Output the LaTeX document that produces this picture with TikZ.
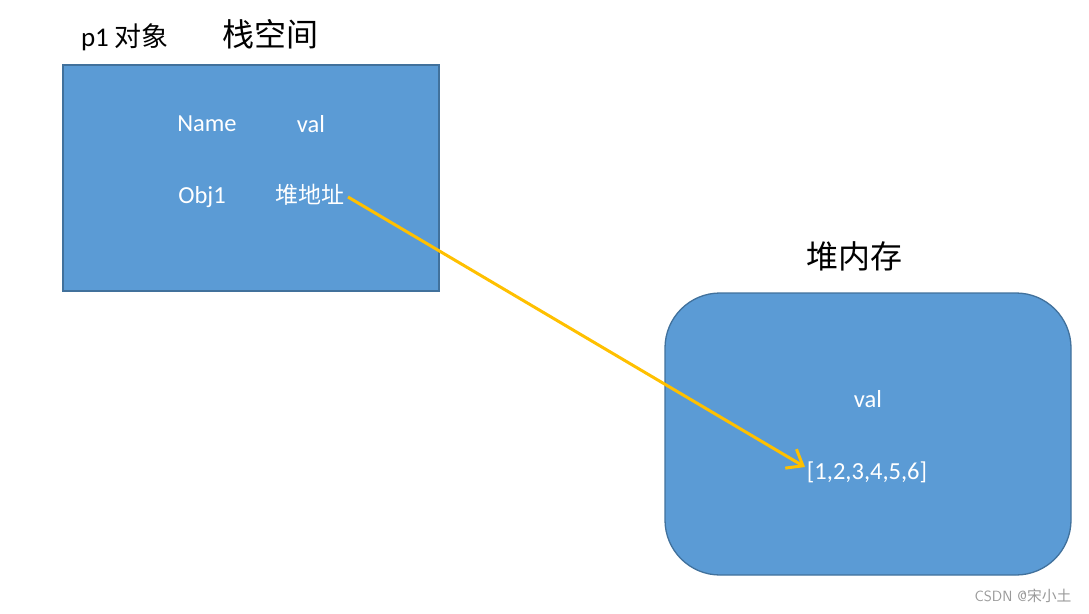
\documentclass[tikz,border=0pt]{standalone}
\usepackage{fontspec}
\setmainfont{Carlito}
\newfontfamily\cjk{Noto Sans CJK SC}
\usetikzlibrary{arrows.meta}
\definecolor{boxfill}{HTML}{5B9BD5}
\definecolor{boxline}{HTML}{41719C}
\definecolor{arrowc}{HTML}{FFC000}
\begin{document}
\begin{tikzpicture}[x=1pt,y=-1pt,
  box/.style={draw=boxline,line width=1.3pt,fill=boxfill},
  intext/.style={text=white,font=\fontsize{24.5}{28}\selectfont,inner sep=0pt,anchor=center},
  title/.style={text=black,font=\cjk\fontsize{32}{36}\selectfont,inner sep=0pt,anchor=center},
  link/.style={draw=arrowc,line width=3pt,-{Straight Barb[length=14pt,width=22pt,line width=3pt]}}]
\useasboundingbox (0,0) rectangle (1089,613);
\path[box] (63,65) rectangle (439,291);
\node (stack) at (251,178) {};
\path[box,rounded corners=55pt] (665,293) rectangle (1071,575);
\node (heap) at (868,434) {};
\node[inner sep=0pt,anchor=center,font=\fontsize{27}{31}\selectfont] (p1) at (125,37) {p1 {\cjk 对象}};
\node[title] (stacktitle) at (270,34) {栈空间};
\node[title] (heaptitle) at (854,256) {堆内存};
\node[intext] (name) at (207,124) {Name};
\node[intext] (val1) at (311,124) {val};
\node[intext] (obj) at (202,197) {Obj1};
\node[intext,font=\cjk\fontsize{23}{27}\selectfont] (addr) at (310,195) {堆地址};
\node[intext] (val2) at (868,399) {val};
\node[intext] (arr) at (867,472) {[1,2,3,4,5,6]};
\coordinate (start) at (348,197);
\coordinate (end) at (805,467);
\draw[link] (start) -- (end);
\node[text=gray!80,font=\fontsize{14.8}{17}\selectfont\sffamily,inner sep=0pt] (wm) at (1023,596) {CSDN @{\cjk 宋小土}};
\end{tikzpicture}
\end{document}
